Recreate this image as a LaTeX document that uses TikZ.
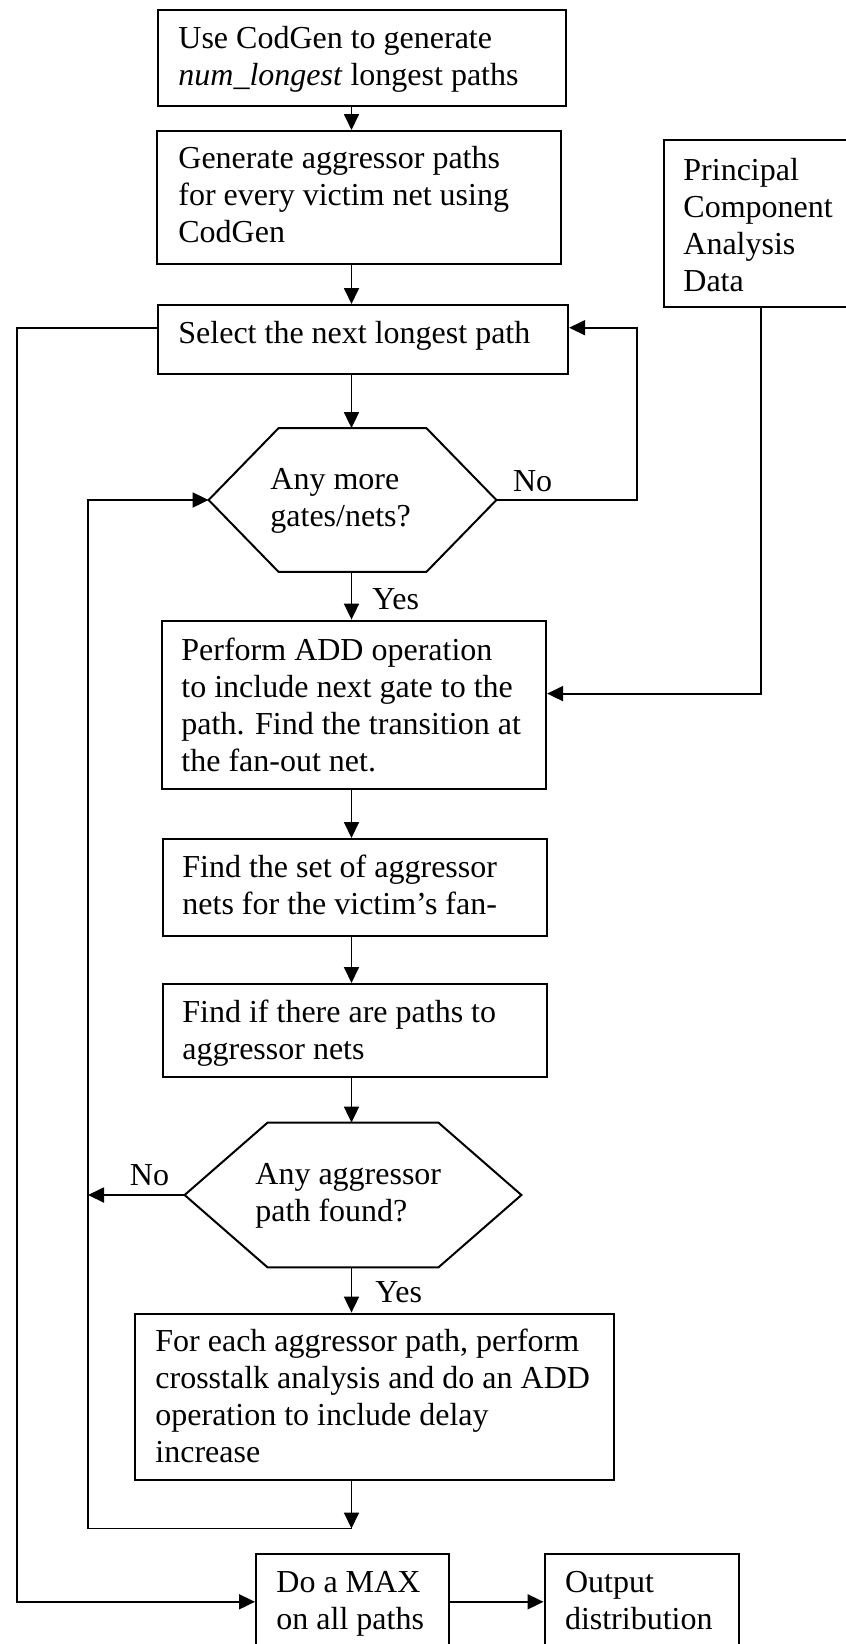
\documentclass[tikz,border=0pt]{standalone}
\usepackage{fontspec}
\setmainfont{Liberation Serif}
\usetikzlibrary{arrows.meta}
\newcommand\fl{\rule{0pt}{12pt}}
\begin{document}
\begin{tikzpicture}[x=0.5pt,y=-0.5pt,
  boxed/.style={draw, line width=1.05pt, rectangle, inner sep=0pt, anchor=north west},
  hexnode/.style={rectangle, inner sep=0pt},
  hexline/.style={line width=1pt, line join=miter},
  txt/.style={anchor=north west, inner sep=0pt, align=left, font=\fontsize{16pt}{18.5pt}\selectfont},
  lbl/.style={anchor=base west, inner sep=0pt, font=\fontsize{16pt}{18.5pt}\selectfont},
  conn/.style={line width=0.9pt},
  arr/.style={line width=0.9pt, -{Triangle[length=8pt,width=7.5pt]}}]
\fill[white] (0,0) rectangle (846,1644);
\useasboundingbox (0,0) rectangle (846,1644);
% helper coordinates
\coordinate (sp) at (351.5,0);
\coordinate (ly) at (0,327.7);
\coordinate (c1) at (637,500);
\coordinate (c2) at (0,693.6);
\coordinate (c3) at (88,500);
\coordinate (c4) at (17,0);
\coordinate (j) at (351.5,1528.5);
% boxes
\node[boxed, minimum width=204pt, minimum height=48pt] (b1) at (156.5,9) {};
\node[boxed, minimum width=202pt, minimum height=66.5pt] (b2) at (156,130) {};
\node[boxed, minimum width=205pt, minimum height=34.25pt] (b3) at (157,304) {};
\node[boxed, minimum width=97.75pt, minimum height=83.5pt] (pca) at (662.5,139) {};
\node[boxed, minimum width=192pt, minimum height=84.2pt] (b4) at (161,619.6) {};
\node[boxed, minimum width=192pt, minimum height=48.5pt] (b5) at (162,838) {};
\node[boxed, minimum width=192pt, minimum height=46.5pt] (b6) at (162,983) {};
\node[boxed, minimum width=239.25pt, minimum height=83pt] (b7) at (134,1312.6) {};
\node[boxed, minimum width=96.5pt, minimum height=48.25pt] (mx) at (255,1552.5) {};
\node[boxed, minimum width=97.1pt, minimum height=48.25pt] (out) at (543.5,1552.5) {};
% hexagons
\node[hexnode, minimum width=143.5pt, minimum height=71.5pt] (h1) at (352.5,500) {};
\draw[hexline] (h1.west) -- ([xshift=35pt]h1.north west) -- ([xshift=-35pt]h1.north east) -- (h1.east)
  -- ([xshift=-35pt]h1.south east) -- ([xshift=35pt]h1.south west) -- cycle;
\node[hexnode, minimum width=168pt, minimum height=72pt] (h2) at (353,1195) {};
\draw[hexline] (h2.west) -- ([xshift=41.5pt]h2.north west) -- ([xshift=-41.5pt]h2.north east) -- (h2.east)
  -- ([xshift=-41.5pt]h2.south east) -- ([xshift=41.5pt]h2.south west) -- cycle;
% texts
\node[txt] (t1) at (178,24) {\fl Use CodGen to generate\\\textit{num\_longest} longest paths};
\node[txt] (t2) at (178,144) {\fl Generate aggressor paths\\for every victim net using\\CodGen};
\node[txt] (t3) at (178,319) {\fl Select the next longest path};
\node[txt] (tp) at (683,156) {\fl Principal\\Component\\Analysis\\Data};
\node[txt] (th1) at (270,465) {\fl Any more\\gates/nets?};
\node[txt] (t4) at (181,635.6) {\fl Perform ADD operation\\to include next gate to the\\path. Find the transition at\\the fan-out net.};
\node[txt] (t5) at (182,853.5) {\fl Find the set of aggressor\\nets for the victim’s fan-};
\node[txt] (t6) at (182,998) {\fl Find if there are paths to\\aggressor nets};
\node[txt] (th2) at (255,1160) {\fl Any aggressor\\path found?};
\node[txt] (t7) at (155,1327.5) {\fl For each aggressor path, perform\\crosstalk analysis and do an ADD\\operation to include delay\\increase};
\node[txt] (tm) at (276,1567.7) {\fl Do a MAX\\on all paths};
\node[txt] (to) at (564.6,1567.7) {\fl Output\\distribution};
% labels
\node[lbl] (no1) at (512.7,491) {No};
\node[lbl] (yes1) at (372,609) {Yes};
\node[lbl] (no2) at (129.5,1185) {No};
\node[lbl] (yes2) at (375,1302) {Yes};
% connectors
\draw[arr] (b1.south -| sp) -- (b2.north -| sp);
\draw[arr] (b2.south -| sp) -- (b3.north -| sp);
\draw[arr] (b3.south -| sp) -- (h1.north -| sp);
\draw[arr] (h1.east) -- (c1) |- (b3.east |- ly);
\draw[arr] (h1.south -| sp) -- (b4.north -| sp);
\draw[arr] (pca.south) |- (b4.east |- c2);
\draw[arr] (b4.south -| sp) -- (b5.north -| sp);
\draw[arr] (b5.south -| sp) -- (b6.north -| sp);
\draw[arr] (b6.south -| sp) -- (h2.north -| sp);
\draw[arr] (h2.south -| sp) -- (b7.north -| sp);
\draw[arr] (h2.west) -- (h2.west -| c3);
\draw[arr] (b7.south -| sp) -- (j);
\draw[arr] (j) -- (c3 |- j) -- (c3) -- (h1.west);
\draw[arr] (b3.west |- ly) -- (c4 |- ly) -- (c4 |- mx.west) -- (mx.west);
\draw[arr] (mx.east) -- (out.west);
\end{tikzpicture}
\end{document}
